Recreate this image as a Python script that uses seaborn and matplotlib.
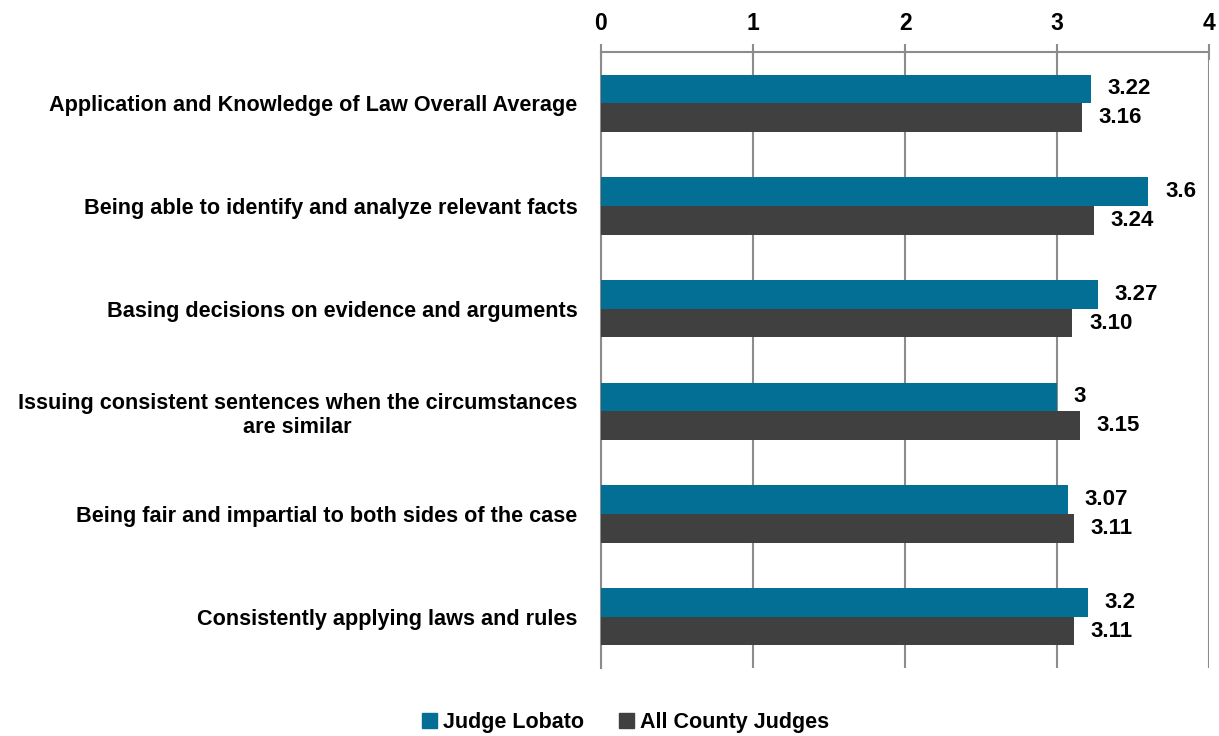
import pandas as pd
import matplotlib.pyplot as plt
import seaborn as sns

# Chart values
categories = [
    'Application and Knowledge of Law Overall Average',
    'Being able to identify and analyze relevant facts',
    'Basing decisions on evidence and arguments',
    'Issuing consistent sentences when the circumstances\nare similar',
    'Being fair and impartial to both sides of the case',
    'Consistently applying laws and rules',
]
series = ['Judge Lobato', 'All County Judges']
lobato = [3.22, 3.6, 3.27, 3.0, 3.07, 3.2]
county = [3.16, 3.24, 3.10, 3.15, 3.11, 3.11]
lobato_labels = ['3.22', '3.6', '3.27', '3', '3.07', '3.2']
county_labels = ['3.16', '3.24', '3.10', '3.15', '3.11', '3.11']
x_ticks = [0, 1, 2, 3, 4]

df = pd.DataFrame({
    'Category': categories * 2,
    'Group': [series[0]] * len(categories) + [series[1]] * len(categories),
    'Score': lobato + county,
})

sns.set_style('white')
plt.rcParams['font.family'] = ['Liberation Sans', 'DejaVu Sans']
plt.rcParams['font.weight'] = 'bold'
plt.rcParams['text.color'] = 'black'
plt.rcParams['xtick.color'] = 'black'
plt.rcParams['ytick.color'] = 'black'

fig = plt.figure(figsize=(12.19, 7.36), dpi=100)
ax = fig.add_axes([0.493, 0.0924, 0.499, 0.8369])

sns.barplot(data=df, y='Category', x='Score', hue='Group', orient='h',
            palette=['#036F94', '#404040'], width=0.56, gap=0,
            edgecolor='none', saturation=1, legend=False, ax=ax, zorder=3)

ax.set_xlim(0, 4)
ax.set_ylim(5.5, -0.5)
ax.set_xticks(x_ticks)
ax.xaxis.tick_top()
ax.tick_params(axis='x', direction='inout', length=12, width=1.5, color='#8c8c8c',
               labelsize=16.5, labelcolor='black', pad=6)
for lbl in ax.get_xticklabels():
    lbl.set_fontweight('bold')
ax.grid(axis='x', color='#8c8c8c', linewidth=1.5, zorder=0)
ax.set_axisbelow(True)

# category ticks / boundaries on the left axis
ax.set_yticks(range(len(categories)))
ax.set_yticklabels(categories, fontsize=15.6, fontweight='bold', multialignment='center')
ax.set_yticks([i - 0.5 for i in range(len(categories) + 1)], minor=True)
ax.tick_params(axis='y', which='major', length=0, pad=17, labelcolor='black')
ax.tick_params(axis='y', which='minor', direction='out', length=6, width=1.5, color='#8c8c8c')

ax.set_xlabel('')
ax.set_ylabel('')
for side in ['right', 'bottom']:
    ax.spines[side].set_visible(False)
for side in ['left', 'top']:
    ax.spines[side].set_color('#8c8c8c')
    ax.spines[side].set_linewidth(1.5)

ax.bar_label(ax.containers[0], labels=lobato_labels, padding=12, fontsize=16,
             fontweight='bold', color='black')
ax.bar_label(ax.containers[1], labels=county_labels, padding=12, fontsize=16,
             fontweight='bold', color='black')

handles = [plt.Rectangle((0, 0), 1, 1, color=c) for c in ['#036F94', '#404040']]
fig.legend(handles, series, loc='lower center', bbox_to_anchor=(0.513, -0.022), ncol=2,
           frameon=False, prop={'size': 15.5, 'weight': 'bold'}, handlelength=0.7,
           handleheight=0.7, handletextpad=0.3, columnspacing=1.6)

fig.savefig('out.png', dpi=100)
